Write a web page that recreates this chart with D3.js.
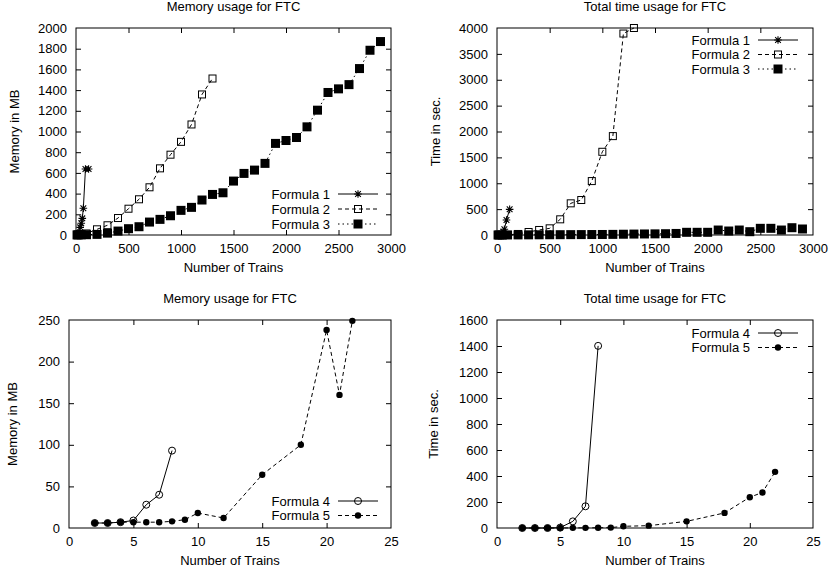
<!DOCTYPE html>
<html>
<head>
<meta charset="utf-8">
<script src="https://cdn.jsdelivr.net/npm/d3@7"></script>
<style>
html,body{margin:0;padding:0;background:#fff;}
svg{display:block;}
text{font-family:"Liberation Sans",Arial,Helvetica,sans-serif;fill:#000;}
</style>
</head>
<body>
<svg id="chart" width="832" height="573"></svg>
<script>
// ---------------- data ----------------
const f1X    = [10, 20, 30, 40, 50, 60, 70, 90, 120];
const f1Mem  = [3, 8, 20, 74, 113, 161, 258, 637, 637];
const f1Time = [0, 1, 2, 5, 15, 64, 110, 290, 496];

const f2X    = [10, 20, 50, 100, 200, 300, 400, 500, 600, 700, 800, 900, 1000, 1100, 1200, 1300];
const f2Mem  = [1, 2, 5, 15, 55, 94, 164, 254, 345, 461, 644, 776, 900, 1068, 1358, 1512];
const f2Time = [0, 0, 1, 3, 20, 58, 97, 129, 303, 612, 676, 1042, 1608, 1911, 3893, 4000];

const f3X    = [10, 20, 50, 100, 200, 300, 400, 500, 600, 700, 800, 900, 1000, 1100, 1200, 1300, 1400,
                1500, 1600, 1700, 1800, 1900, 2000, 2100, 2200, 2300, 2400, 2500, 2600, 2700, 2800, 2900];
const f3Mem  = [1, 1, 2, 3, 6, 18, 38, 61, 80, 125, 151, 186, 238, 267, 338, 392, 408,
                521, 595, 627, 692, 885, 913, 942, 1045, 1206, 1377, 1412, 1453, 1608, 1785, 1869];
const f3Time = [0, 0, 0, 1, 2, 3, 4, 5, 6, 7, 8, 9, 10, 12, 15, 18, 20,
                22, 25, 30, 52, 52, 52, 96, 77, 96, 64, 129, 129, 96, 141, 116];

const f4X    = [2, 3, 4, 5, 6, 7, 8];
const f4Mem  = [6, 6, 7, 9, 28, 40, 93];
const f4Time = [0, 0, 0, 3, 51, 167, 1401];

const f5X    = [2, 3, 4, 5, 6, 7, 8, 9, 10, 12, 15, 18, 20, 21, 22];
const f5Mem  = [6, 6, 7, 7, 7, 7, 8, 10, 18, 12, 64, 100, 238, 160, 249];
const f5Time = [0, 0, 0, 0, 1, 1, 2, 3, 13, 18, 51, 116, 237, 273, 432];

const titles = ["Memory usage for FTC", "Total time usage for FTC", "Memory usage for FTC", "Total time usage for FTC"];
const xLabel = "Number of Trains";
const yLabels = ["Memory in MB", "Time in sec.", "Memory in MB", "Time in sec."];
const seriesNames = ["Formula 1", "Formula 2", "Formula 3", "Formula 4", "Formula 5"];

const xTicksTop = [0, 500, 1000, 1500, 2000, 2500, 3000];
const yTicksMemTop = [0, 200, 400, 600, 800, 1000, 1200, 1400, 1600, 1800, 2000];
const yTicksTimeTop = [0, 500, 1000, 1500, 2000, 2500, 3000, 3500, 4000];
const xTicksBot = [0, 5, 10, 15, 20, 25];
const yTicksMemBot = [0, 50, 100, 150, 200, 250];
const yTicksTimeBot = [0, 200, 400, 600, 800, 1000, 1200, 1400, 1600];

// ---------------- drawing ----------------
const svg = d3.select("#chart");
const FS = 13;
const TICK = 5;
const fmt = d3.format("d");

const styles = {
  "Formula 1": {dash: null, marker: "star"},
  "Formula 2": {dash: "4,3", marker: "osq"},
  "Formula 3": {dash: "1.5,3", marker: "fsq"},
  "Formula 4": {dash: null, marker: "ocirc"},
  "Formula 5": {dash: "4,3", marker: "fcirc"}
};

function drawMarker(g, type, x, y) {
  if (type === "star") {
    const s = 3.8;
    const d = `M${x-s},${y}L${x+s},${y}M${x},${y-s}L${x},${y+s}` +
              `M${x-s*0.75},${y-s*0.75}L${x+s*0.75},${y+s*0.75}M${x-s*0.75},${y+s*0.75}L${x+s*0.75},${y-s*0.75}`;
    g.append("path").attr("d", d).attr("stroke", "#000").attr("stroke-width", 1.1).attr("fill", "none");
  } else if (type === "osq") {
    g.append("rect").attr("x", x-3.5).attr("y", y-3.5).attr("width", 7).attr("height", 7)
      .attr("fill", "none").attr("stroke", "#000").attr("stroke-width", 1);
  } else if (type === "fsq") {
    g.append("rect").attr("x", x-4.5).attr("y", y-4.5).attr("width", 9).attr("height", 9).attr("fill", "#000");
  } else if (type === "ocirc") {
    g.append("circle").attr("cx", x).attr("cy", y).attr("r", 3.5)
      .attr("fill", "none").attr("stroke", "#000").attr("stroke-width", 1);
  } else if (type === "fcirc") {
    g.append("circle").attr("cx", x).attr("cy", y).attr("r", 3.2).attr("fill", "#000");
  }
}

function panel(cfg) {
  const x = d3.scaleLinear().domain(cfg.xDomain).range([cfg.left, cfg.right]);
  const y = d3.scaleLinear().domain(cfg.yDomain).range([cfg.bottom, cfg.top]);
  const g = svg.append("g");

  // ticks (inward, mirrored) using d3 axes
  const axB = d3.axisBottom(x).tickValues(cfg.xTicks).tickFormat(fmt).tickSizeInner(-TICK).tickSizeOuter(0).tickPadding(9);
  const axT = d3.axisTop(x).tickValues(cfg.xTicks).tickSizeInner(-TICK).tickSizeOuter(0).tickFormat("");
  const axL = d3.axisLeft(y).tickValues(cfg.yTicks).tickFormat(fmt).tickSizeInner(-TICK).tickSizeOuter(0).tickPadding(9);
  const axR = d3.axisRight(y).tickValues(cfg.yTicks).tickSizeInner(-TICK).tickSizeOuter(0).tickFormat("");

  const gb = g.append("g").attr("transform", `translate(0,${cfg.bottom})`).call(axB);
  const gt = g.append("g").attr("transform", `translate(0,${cfg.top})`).call(axT);
  const gl = g.append("g").attr("transform", `translate(${cfg.left},0)`).call(axL);
  const gr = g.append("g").attr("transform", `translate(${cfg.right},0)`).call(axR);
  [gb, gt, gl, gr].forEach(a => {
    a.select(".domain").remove();
    a.selectAll("line").attr("stroke", "#000").attr("stroke-width", 1);
    a.selectAll("text").attr("font-size", FS).attr("font-family", "Liberation Sans, Arial, sans-serif").attr("fill", "#000");
  });
  gb.selectAll(".tick").filter((d, i) => i === 0 || i === cfg.xTicks.length - 1).select("line").remove();
  gt.selectAll(".tick").filter((d, i) => i === 0 || i === cfg.xTicks.length - 1).select("line").remove();
  gl.selectAll(".tick").filter((d, i) => i === 0 || i === cfg.yTicks.length - 1).select("line").remove();
  gr.selectAll(".tick").filter((d, i) => i === 0 || i === cfg.yTicks.length - 1).select("line").remove();
  gb.selectAll("text").attr("dy", "0.71em");

  // frame
  g.append("rect").attr("x", cfg.left).attr("y", cfg.top)
    .attr("width", cfg.right - cfg.left).attr("height", cfg.bottom - cfg.top)
    .attr("fill", "none").attr("stroke", "#000").attr("stroke-width", 1);

  // title & labels
  const cx = (cfg.left + cfg.right) / 2;
  g.append("text").attr("x", cx).attr("y", cfg.top - 17).attr("text-anchor", "middle")
    .attr("font-size", FS).text(cfg.title);
  g.append("text").attr("x", cx).attr("y", cfg.bottom + 37).attr("text-anchor", "middle")
    .attr("font-size", FS).text(xLabel);
  g.append("text").attr("transform", `translate(${cfg.yLabelX},${(cfg.top + cfg.bottom) / 2}) rotate(-90)`)
    .attr("text-anchor", "middle").attr("font-size", FS).text(cfg.yLabel);

  // series
  const line = d3.line().x(d => x(d[0])).y(d => y(d[1]));
  cfg.series.forEach(s => {
    const st = styles[s.name];
    const pts = s.xs.map((v, i) => [v, s.ys[i]]);
    g.append("path").datum(pts).attr("d", line).attr("fill", "none").attr("stroke", "#000")
      .attr("stroke-width", 1).attr("stroke-dasharray", st.dash);
    const mg = g.append("g");
    pts.forEach(p => drawMarker(mg, st.marker, x(p[0]), y(p[1])));
  });

  // legend
  cfg.series.forEach((s, i) => {
    const st = styles[s.name];
    const ly = cfg.legendY + i * cfg.legendStep;
    g.append("text").attr("x", cfg.legendTextX).attr("y", ly).attr("dy", "0.35em")
      .attr("text-anchor", "end").attr("font-size", FS).text(s.name);
    const x0 = cfg.legendTextX + 8, x1 = x0 + 40;
    g.append("line").attr("x1", x0).attr("x2", x1).attr("y1", ly).attr("y2", ly)
      .attr("stroke", "#000").attr("stroke-width", 1).attr("stroke-dasharray", st.dash);
    drawMarker(g, st.marker, (x0 + x1) / 2, ly);
  });
}

panel({
  left: 76, right: 391, top: 28, bottom: 235,
  xDomain: [0, 3000], yDomain: [0, 2000], xTicks: xTicksTop, yTicks: yTicksMemTop,
  title: titles[0], yLabel: yLabels[0], yLabelX: 19,
  series: [
    {name: seriesNames[0], xs: f1X, ys: f1Mem},
    {name: seriesNames[1], xs: f2X, ys: f2Mem},
    {name: seriesNames[2], xs: f3X, ys: f3Mem}
  ],
  legendTextX: 330, legendY: 194, legendStep: 15
});

panel({
  left: 497, right: 813, top: 28, bottom: 235,
  xDomain: [0, 3000], yDomain: [0, 4000], xTicks: xTicksTop, yTicks: yTicksTimeTop,
  title: titles[1], yLabel: yLabels[1], yLabelX: 440,
  series: [
    {name: seriesNames[0], xs: f1X, ys: f1Time},
    {name: seriesNames[1], xs: f2X, ys: f2Time},
    {name: seriesNames[2], xs: f3X, ys: f3Time}
  ],
  legendTextX: 750, legendY: 40, legendStep: 14.5
});

panel({
  left: 69, right: 391, top: 320, bottom: 528,
  xDomain: [0, 25], yDomain: [0, 250], xTicks: xTicksBot, yTicks: yTicksMemBot,
  title: titles[2], yLabel: yLabels[2], yLabelX: 17,
  series: [
    {name: seriesNames[3], xs: f4X, ys: f4Mem},
    {name: seriesNames[4], xs: f5X, ys: f5Mem}
  ],
  legendTextX: 330, legendY: 501, legendStep: 14.5
});

panel({
  left: 497, right: 813, top: 320, bottom: 528,
  xDomain: [0, 25], yDomain: [0, 1600], xTicks: xTicksBot, yTicks: yTicksTimeBot,
  title: titles[3], yLabel: yLabels[3], yLabelX: 438,
  series: [
    {name: seriesNames[3], xs: f4X, ys: f4Time},
    {name: seriesNames[4], xs: f5X, ys: f5Time}
  ],
  legendTextX: 750, legendY: 333, legendStep: 14.5
});
</script>
</body>
</html>
